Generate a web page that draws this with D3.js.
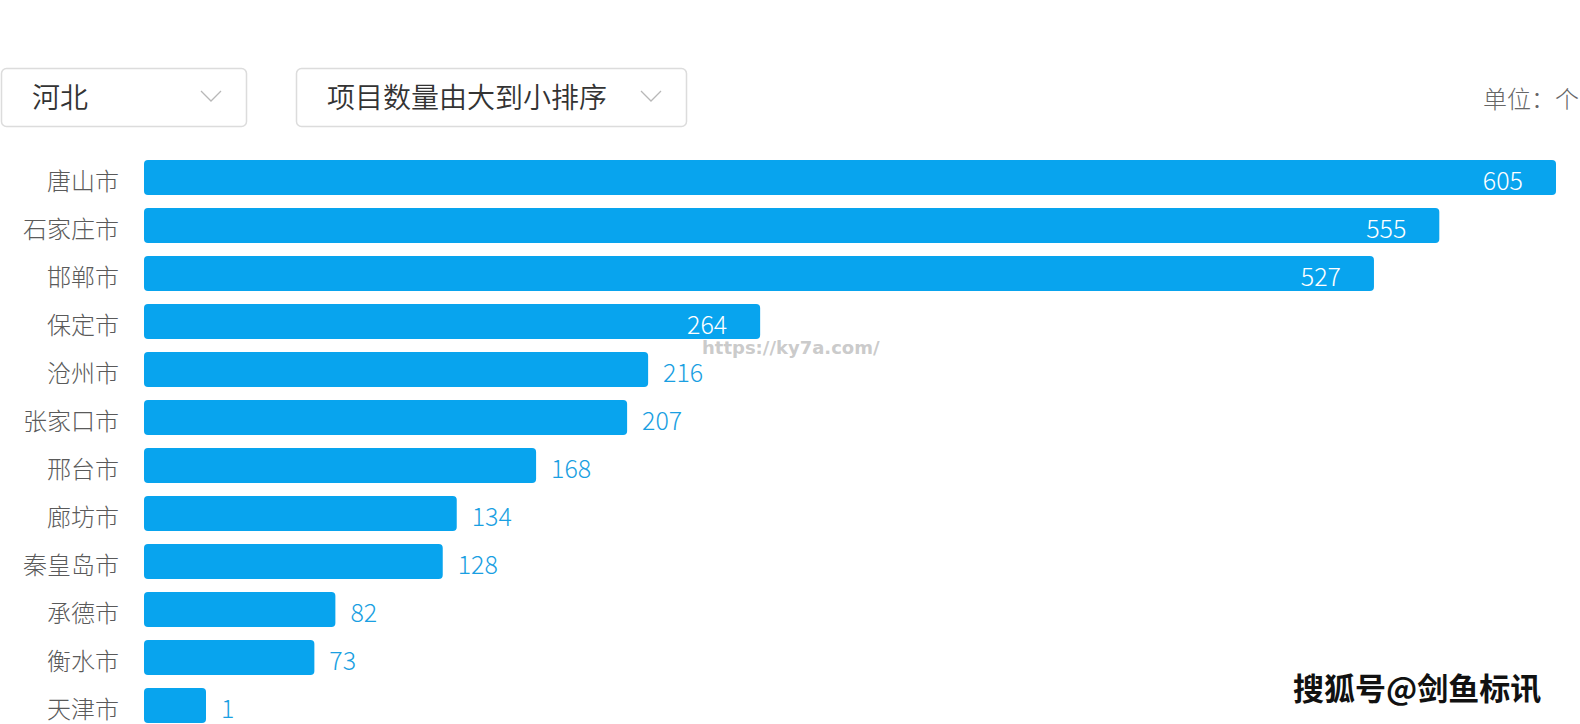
<!DOCTYPE html>
<html>
<head>
<meta charset="utf-8">
<script src="https://cdn.jsdelivr.net/npm/d3@7/dist/d3.min.js"></script>
<style>
html,body{margin:0;padding:0;background:#fff;overflow:hidden;}
svg{display:block;font-family:"Noto Sans CJK SC","Noto Sans",sans-serif;}
</style>
</head>
<body>
<svg id="chart" width="1580" height="724"></svg>
<script>
const cities = ["唐山市","石家庄市","邯郸市","保定市","沧州市","张家口市","邢台市","廊坊市","秦皇岛市","承德市","衡水市","天津市"];
const counts = [605,555,527,264,216,207,168,134,128,82,73,1];
const insideLabelCount = 4;
const provinceLabel = "河北";
const sortLabel = "项目数量由大到小排序";
const unitLabel = "单位：个";
const watermark1 = "https://ky7a.com/";
const watermark2 = "搜狐号@剑鱼标讯";

const svg = d3.select("#chart");
const data = cities.map((c,i)=>({city:c, value:counts[i], idx:i}));

const x = d3.scaleLinear().domain([0, d3.max(counts)]).range([144, 1556]);
const y = d3.scaleBand().domain(cities).range([153.5, 729.5]).paddingInner(13/48).paddingOuter(13/96);
const minW = 62;
const barEnd = d => x(0) + Math.max(x(d.value) - x(0), minW);

// dropdowns
function dropdown(x0, w, label){
  const g = svg.append("g");
  g.append("rect").attr("x", x0+0.5).attr("y", 68.5).attr("width", w).attr("height", 58)
    .attr("rx", 5).attr("fill", "#fff").attr("stroke", "#dcdcdc").attr("stroke-width", 1.5);
  g.append("text").attr("x", x0+31).attr("y", 108).attr("font-size", 28).attr("font-weight", 350)
    .attr("fill", "#333").text(label);
  const cx = x0 + w - 35;
  g.append("path").attr("d", `M${cx-10},${91} L${cx},${101} L${cx+10},${91}`)
    .attr("fill","none").attr("stroke","#b8b8b8").attr("stroke-width",1.3);
}
dropdown(1, 245, provinceLabel);
dropdown(296, 390, sortLabel);

svg.append("text").attr("x", 1579).attr("y", 108).attr("text-anchor","end")
  .attr("font-size", 24).attr("font-weight", 300).attr("fill", "#666").text(unitLabel);

// category labels
svg.append("g").selectAll("text").data(data).join("text")
  .attr("x", 119).attr("y", d => y(d.city) + y.bandwidth()/2 + 12.5)
  .attr("text-anchor","end").attr("font-size", 24).attr("font-weight", 300).attr("fill", "#5a5a5a")
  .text(d => d.city);

// bars
svg.append("g").selectAll("rect").data(data).join("rect")
  .attr("x", x(0)).attr("y", d => y(d.city))
  .attr("width", d => barEnd(d) - x(0)).attr("height", y.bandwidth())
  .attr("rx", 4).attr("fill", "#08a4ee");

// value labels
svg.append("g").selectAll("text").data(data).join("text")
  .attr("x", d => d.idx < insideLabelCount ? barEnd(d) - 33 : barEnd(d) + 15)
  .attr("y", d => y(d.city) + y.bandwidth()/2 + 12)
  .attr("text-anchor", d => d.idx < insideLabelCount ? "end" : "start")
  .attr("font-size", 25).attr("font-weight", 300)
  .attr("fill", d => d.idx < insideLabelCount ? "#fff" : "#1a9fe2")
  .text(d => d.value);

// watermarks
svg.append("text").attr("x", 702).attr("y", 354).attr("font-size", 18).attr("font-weight","bold")
  .attr("font-family","'DejaVu Sans',sans-serif").attr("fill","#c4c4c4").attr("fill-opacity",0.9)
  .text(watermark1);
svg.append("text").attr("x", 1293).attr("y", 700).attr("font-size", 31).attr("font-weight","bold")
  .attr("fill","#111").attr("stroke","#fff").attr("stroke-width",1).attr("paint-order","stroke")
  .text(watermark2);
</script>
</body>
</html>
